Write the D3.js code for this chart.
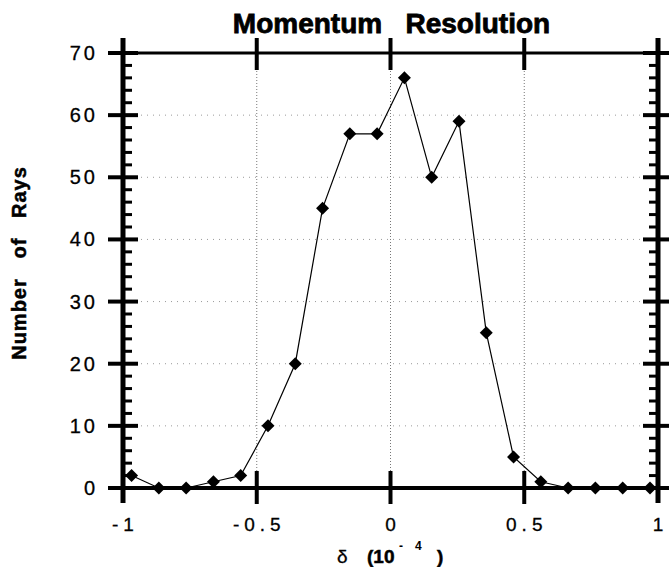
<!DOCTYPE html>
<html>
<head>
<meta charset="utf-8">
<script src="https://cdn.jsdelivr.net/npm/d3@7"></script>
<style>
  html, body { margin: 0; padding: 0; background: #fff; }
  svg { display: block; }
  text { font-family: "Liberation Sans", Arial, Helvetica, sans-serif; fill: #000; }
</style>
</head>
<body>
<svg id="chart" width="669" height="567"></svg>
<script>
// ---- Data ----
const deltaValues = [-0.968, -0.866, -0.764, -0.662, -0.56, -0.458, -0.356, -0.254, -0.152, -0.05,
                     0.052, 0.154, 0.256, 0.358, 0.46, 0.562, 0.664, 0.766, 0.868, 0.97];
const rayCounts   = [2, 0, 0, 1, 2, 10, 20, 45, 57, 57,
                     66, 50, 59, 25, 5, 1, 0, 0, 0, 0];
const xTickValues = [-1, -0.5, 0, 0.5, 1];
const xTickLabels = ["-1", "-0.5", "0", "0.5", "1"];
const yTickValues = [0, 10, 20, 30, 40, 50, 60, 70];
const yMinorValues = d3.range(0, 71, 2).filter(v => v % 10 !== 0);
const titleText = "Momentum   Resolution";
const yTitleText = "Number   of   Rays";

(function () {
// ---- Layout ----
const svg = d3.select("#chart");
const pLeft = 123, pRight = 658, pTop = 53, pBottom = 488;
const x = d3.scaleLinear().domain([-1, 1]).range([pLeft, pRight]);
const y = d3.scaleLinear().domain([0, 70]).range([pBottom, pTop]);

// ---- Gridlines ----
const grid = svg.append("g");
grid.selectAll("line.hg").data(yTickValues.filter(v => v > 0 && v < 70)).join("line")
  .attr("x1", pLeft).attr("x2", pRight)
  .attr("y1", d => y(d)).attr("y2", d => y(d))
  .attr("stroke", "#9a9a9a").attr("stroke-width", 1).attr("stroke-dasharray", "1,5");
grid.selectAll("line.vg").data(xTickValues.filter(v => v > -1 && v < 1)).join("line")
  .attr("x1", d => x(d)).attr("x2", d => x(d))
  .attr("y1", pTop).attr("y2", pBottom)
  .attr("stroke", "#777").attr("stroke-width", 1).attr("stroke-dasharray", "1,2");

// ---- Frame lines ----
const frame = svg.append("g").attr("stroke", "#000");
frame.append("line").attr("x1", pLeft).attr("x2", pRight).attr("y1", y(70)).attr("y2", y(70)).attr("stroke-width", 3);
frame.append("line").attr("x1", pLeft).attr("x2", pRight).attr("y1", y(0)).attr("y2", y(0)).attr("stroke-width", 4);
frame.append("line").attr("x1", x(-1)).attr("x2", x(-1)).attr("y1", 38).attr("y2", 503).attr("stroke-width", 5);
frame.append("line").attr("x1", x(1)).attr("x2", x(1)).attr("y1", 38).attr("y2", 503).attr("stroke-width", 5);

// Y major ticks (both sides)
[x(-1), x(1)].forEach(ax => {
  frame.selectAll(null).data(yTickValues).join("line")
    .attr("x1", ax - 15).attr("x2", ax + 15)
    .attr("y1", d => y(d)).attr("y2", d => y(d))
    .attr("stroke-width", 4);
});
// Y minor ticks (inside)
frame.selectAll(null).data(yMinorValues).join("line")
  .attr("x1", x(-1)).attr("x2", x(-1) + 9)
  .attr("y1", d => y(d)).attr("y2", d => y(d)).attr("stroke-width", 3);
frame.selectAll(null).data(yMinorValues).join("line")
  .attr("x1", x(1) - 9).attr("x2", x(1))
  .attr("y1", d => y(d)).attr("y2", d => y(d)).attr("stroke-width", 3);
// X major ticks top and bottom
const innerX = xTickValues.filter(v => v > -1 && v < 1);
frame.selectAll(null).data(innerX).join("line")
  .attr("x1", d => x(d)).attr("x2", d => x(d))
  .attr("y1", y(70) - 15).attr("y2", y(70) + 17).attr("stroke-width", 4);
frame.selectAll(null).data(innerX).join("line")
  .attr("x1", d => x(d)).attr("x2", d => x(d))
  .attr("y1", y(0) - 17).attr("y2", y(0) + 16).attr("stroke-width", 4);

// ---- Tick labels ----
svg.append("g").selectAll("text").data(yTickValues).join("text")
  .attr("x", pLeft - 25).attr("y", d => y(d) + 7)
  .attr("text-anchor", "end")
  .attr("font-size", 20).attr("letter-spacing", 3)
  .attr("stroke", "#000").attr("stroke-width", 0.3)
  .text(d => d);
svg.append("g").selectAll("text").data(xTickValues).join("text")
  .attr("x", (d) => x(d) + 2.5).attr("y", 531)
  .attr("text-anchor", "middle")
  .attr("font-size", 19).attr("letter-spacing", 5)
  .attr("stroke", "#000").attr("stroke-width", 0.3)
  .text((d, i) => xTickLabels[i]);

// ---- Titles ----
svg.append("text")
  .attr("x", x(0) + 1).attr("y", 33)
  .attr("text-anchor", "middle")
  .attr("font-size", 28).attr("font-weight", "bold")
  .attr("stroke", "#000").attr("stroke-width", 0.8)
  .style("white-space", "pre")
  .text(titleText);

svg.append("text")
  .attr("transform", "translate(26,263) rotate(-90)")
  .attr("text-anchor", "middle")
  .attr("font-size", 20).attr("font-weight", "bold").attr("letter-spacing", 1)
  .attr("stroke", "#000").attr("stroke-width", 0.5)
  .style("white-space", "pre")
  .text(yTitleText);

const xt = svg.append("g").attr("font-size", 19);
xt.append("text").attr("x", 337).attr("y", 563)
  .attr("font-family", "'DejaVu Serif', 'Liberation Serif', serif").attr("font-size", 19)
  .attr("stroke", "#000").attr("stroke-width", 0.3).text("δ");
xt.append("text").attr("x", 367).attr("y", 563).attr("font-weight", "bold")
  .attr("stroke", "#000").attr("stroke-width", 0.5).text("(10");
xt.append("text").attr("x", 399).attr("y", 550).attr("font-weight", "bold").attr("font-size", 12).text("-");
xt.append("text").attr("x", 415).attr("y", 550).attr("font-weight", "bold").attr("font-size", 12).text("4");
xt.append("text").attr("x", 437).attr("y", 563).attr("font-weight", "bold")
  .attr("stroke", "#000").attr("stroke-width", 0.5).text(")");

// ---- Data line and markers ----
const pts = deltaValues.map((d, i) => [d, rayCounts[i]]);
svg.append("path")
  .datum(pts)
  .attr("fill", "none").attr("stroke", "#000").attr("stroke-width", 1.2)
  .attr("d", d3.line().x(d => x(d[0])).y(d => y(d[1])));
const r = 6.5;
svg.append("g").selectAll("path").data(pts).join("path")
  .attr("fill", "#000")
  .attr("d", d => {
    const cx = x(d[0]), cy = y(d[1]);
    return `M${cx},${cy - r}L${cx + r},${cy}L${cx},${cy + r}L${cx - r},${cy}Z`;
  });
})();
</script>
</body>
</html>
